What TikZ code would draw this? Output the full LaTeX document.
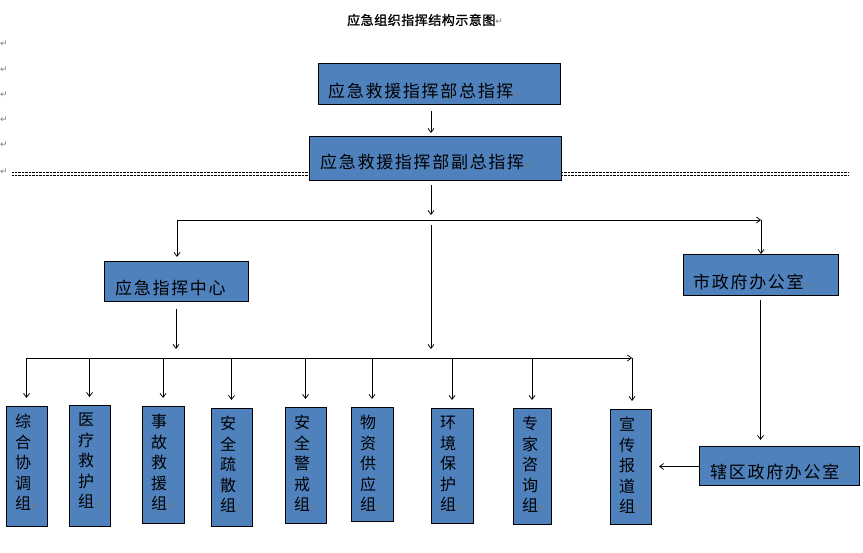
\documentclass[tikz,border=0pt]{standalone}
\usepackage{fontspec}
\newfontfamily\cjk[LetterSpace=10]{Noto Sans CJK SC}
\newfontfamily\cjkg{Noto Sans CJK SC}
\newfontfamily\cjktitle[FakeBold=1.2,LetterSpace=4]{Noto Sans CJK SC}
\newfontfamily\dvs{DejaVu Sans}
\usetikzlibrary{arrows.meta}
\definecolor{boxblue}{HTML}{4F81BD}
\definecolor{pmgray}{HTML}{7A7A7A}
\newcommand\pmk{{\dvs\fontsize{9}{9}\selectfont\textcolor{pmgray}{↵}}}
\begin{document}
\begin{tikzpicture}[x=1pt,y=-1pt,
  box/.style={draw=black, line width=1pt, fill=boxblue, inner sep=0pt, outer sep=0pt},
  btext/.style={font=\cjk\fontsize{17}{20}\selectfont, inner sep=0pt, anchor=west},
  gtext/.style={font=\cjkg\fontsize{16}{20.5}\selectfont, align=left, inner sep=0pt, anchor=north west},
  arr/.style={draw=black, line width=0.75pt, -{Straight Barb[length=4pt,width=6pt]}},
  dotl/.style={draw=black, line width=0.7pt, dash pattern=on 0.7pt off 0.7pt},
  pmnode/.style={inner sep=0pt, font=\dvs\fontsize{9}{9}\selectfont, text=pmgray}]
\fill[white] (0,0) rectangle (863,553);
\useasboundingbox (0,0) rectangle (863,553);
\newcommand\bx[5]{\node[box, minimum width={(#4-#2)*1pt}, minimum height={(#5-#3)*1pt}] (#1) at ({(#2+#4)/2},{(#3+#5)/2}) {};}
\newcommand\grp[6]{\bx{#1}{#2}{#3}{#4}{#5}\node[gtext] (#1t) at ({#2+9},{#3+7}) {#6};}
% title
\node[inner sep=0pt, anchor=west, font=\cjktitle\fontsize{13}{15}\selectfont] (title) at (347,20) {应急组织指挥结构示意图\pmk};
% left paragraph marks
\node[pmnode] (pm1) at (4,44) {↵};
\node[pmnode] (pm2) at (4,70) {↵};
\node[pmnode] (pm3) at (4,95) {↵};
\node[pmnode] (pm4) at (4,120) {↵};
\node[pmnode] (pm5) at (4,145) {↵};
\node[pmnode] (pm6) at (4,172) {↵};
% dotted rule
\draw[dotl] (12,172.8) -- (849,172.8);
\draw[dotl] (12,174.9) -- (849,174.9);
% main boxes
\bx{b1}{318}{64}{560}{105}
\node[btext] (b1t) at (328,91) {应急救援指挥部总指挥\pmk};
\bx{b2}{309}{137}{561}{181}
\node[btext] (b2t) at (320,162) {应急救援指挥部副总指挥\pmk};
\bx{c1}{104}{262}{248}{302}
\node[btext] (c1t) at (115,288) {应急指挥中心};
\bx{s1}{683}{255}{838}{296}
\node[btext] (s1t) at (693,282) {市政府办公室\pmk};
\bx{x1}{699}{447}{859}{486}
\node[btext] (x1t) at (710,472) {辖区政府办公室\pmk};
% groups
\grp{g1}{6}{407}{47}{526}{综\\合\\协\\调\\组\pmk}
\grp{g2}{69}{406}{110}{526}{医\\疗\\救\\护\\组\pmk}
\grp{g3}{142}{407}{184}{523}{事\\故\\救\\援\\组\pmk}
\grp{g4}{211}{409}{252}{526}{安\\全\\疏\\散\\组\pmk}
\grp{g5}{285}{408}{326}{523}{安\\全\\警\\戒\\组\pmk}
\grp{g6}{351}{408}{393}{521}{物\\资\\供\\应\\组\pmk}
\grp{g7}{431}{409}{473}{523}{环\\境\\保\\护\\组\pmk}
\grp{g8}{513}{409}{551}{524}{专\\家\\咨\\询\\组\pmk}
\grp{g9}{610}{410}{651}{524}{宣\\传\\报\\道\\组\pmk}
% junction coordinates
\coordinate (cx) at (431,0);
\coordinate (hl) at (177,220);
\coordinate (hm) at (431,220);
\coordinate (hr) at (761,220);
\coordinate (ll) at (26,358);
\coordinate (lm) at (431,358);
\coordinate (lr) at (632,358);
% connectors
\draw[arr, shorten <=6pt, shorten >=4pt] (b1.south -| cx) -- (b2.north -| cx);
\draw[arr, shorten <=4pt, shorten >=5pt] (b2.south -| cx) -- (hm);
\draw[arr] (hl) -- (hr);
\draw[arr, shorten >=5pt] (hl) -- (c1.north -| hl);
\draw[arr, shorten >=1pt] (hr) -- (s1.north -| hr);
\draw[arr, shorten <=5pt, shorten >=9pt] (hm) -- (lm);
\draw[arr, shorten <=7pt, shorten >=9pt] (c1.south) -- (c1.south |- lm);
\draw[arr] (ll) -- (lr);
\foreach \g in {g1,g2,g3,g4,g5,g6,g7,g8}{
  \draw[arr, shorten >=9pt] (\g.north |- ll) -- (\g.north);
}
\draw[arr, shorten >=9pt] (lr) -- (g9.north -| lr);
\draw[arr, shorten <=4pt, shorten >=7pt] (s1.south) -- (s1.south |- x1.north);
\draw[arr, shorten >=8pt] (x1.west) -- (g9.east |- x1.west);
\end{tikzpicture}
\end{document}
